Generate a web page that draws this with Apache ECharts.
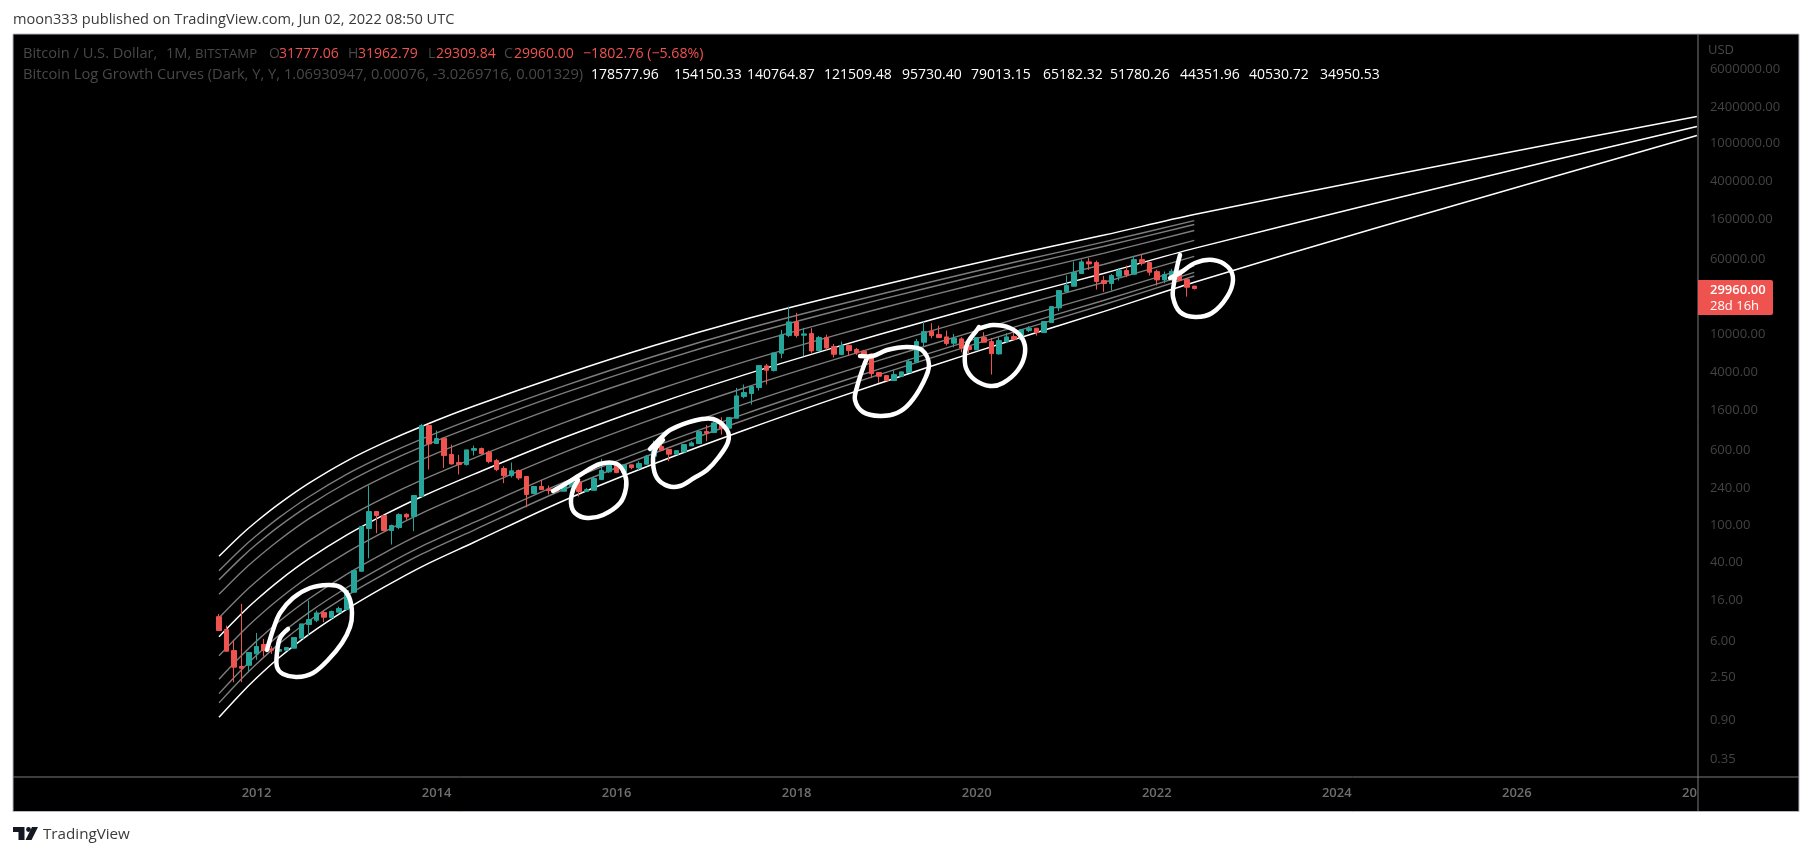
<!DOCTYPE html>
<html><head><meta charset="utf-8">
<script src="https://cdn.jsdelivr.net/npm/echarts@6/dist/echarts.min.js"></script>
<style>html,body{margin:0;padding:0;background:#fff}#c{width:1813px;height:856px}</style></head>
<body><div id="c"></div>
<script>
// First candle is 2011-08, one per month.
const candleOpen=[10.9,7.98,4.81,3.27,3.37,4.44,5.56,5.00,4.73,4.85,
5.09,6.48,9.01,10.0,12.03,10.66,12.13,12.93,19.65,32.6,
91.4,137.7,125,87.1,93.6,129,122,198,1098,711,
809,545,449,428,605,630,577,472,389,328,
371,321,213,252,238,236,225,252,282,223,
230,298,359,428,353,425,395,432,524,661,
615,550,581,672,711,950,927,1180,1029,1310,
2210,2376,2747,4633,4140,6290,9634,13400,9712,10110,
6708,9180,7387,6090,7568,6872,6602,6189,3945,3669,
3252,3610,3945,5062,8202,10695,9870,9327,8005,8890,
7387,6817,9180,8335,6189,8335,9404,8750,10870,11500,
10355,13180,18790,27860,31700,43030,57030,56100,36330,33800,
40340,46250,42330,60310,56100,45150,36930,41000,45510,37220,31777.06];
const candleHigh=[11.65,8.79,6.22,14.83,4.58,7.36,6.37,5.34,5.42,5.17,
6.58,9.15,16.07,12.63,12.83,12.63,13.9,20.45,33.15,95.9,
258,137.7,128,100.6,132,132,203,1143,1143,973,
809,694,541,610,677,645,600,491,411,449,
380,321,256,296,258,244,264,310,282,244,
321,491,464,449,425,425,464,541,764,694,
615,600,694,752,950,1115,1209,1342,1331,2725,
2953,2813,4670,4863,6341,11047,19400,16650,11600,11500,
9557,9870,7879,8335,7752,7152,6817,6290,3945,3669,
4206,4009,5485,8890,13510,12980,12260,10870,10030,9254,
8202,9180,10440,9105,9254,10190,10440,11135,12070,11500,
13510,19400,28540,41000,57470,60310,62800,58870,40660,42680,
49330,52170,65910,69140,57470,47380,45150,48150,45510,38440,31962.79];
const candleLow=[7.79,4.73,2.24,2.24,2.85,3.84,4.16,4.44,4.73,4.85,
5.09,6.48,6.91,9.53,9.53,10.24,12.13,12.93,19.65,32.6,
44.6,81.7,87.1,62.1,89.9,113,85.7,198,380,705,
395,428,337,418,532,545,442,365,273,313,
296,153,209,234,208,220,225,252,198,223,
230,298,350,347,353,382,376,432,524,605,
464,550,581,672,711,752,927,883,1029,1310,
2123,1822,2555,2953,4041,5574,9254,9180,5850,6341,
6548,6817,5665,5993,5898,6042,6090,3440,3074,3252,
3252,3610,3945,5062,7447,9035,9180,7568,7268,6444,
6189,6817,8202,3758,6090,8005,8750,8750,10440,9634,
10355,13180,17340,27860,31700,43030,47010,29240,27630,28540,
36330,39370,42330,52170,41000,32200,34070,36330,36330,24690,29309.84];
const candleClose=[7.79,4.73,3.22,3.14,4.58,5.30,4.81,4.85,4.93,5.17,
6.58,9.15,10.16,11.93,10.75,12.33,13.25,20.45,33.15,95.9,
137.7,125,87.1,98.2,128,121,203,1098,705,802,
532,435,428,610,630,558,460,380,328,368,
310,208,252,234,229,225,258,286,223,234,
305,371,428,353,425,398,439,524,661,605,
550,600,694,722,950,912,1170,1021,1331,2246,
2433,2813,4670,4174,6341,9790,13400,9634,10030,6655,
9180,7152,6139,7568,6708,6341,6090,3850,3610,3252,
3758,4009,5145,8335,10610,9634,9180,7943,9035,7152,
6872,9180,8202,6239,8537,9327,8750,11135,11500,10355,
13510,19400,28540,32200,44090,57030,54330,35460,33800,41000,
46250,41670,60310,55210,44440,36930,42000,45510,36330,30930,29960.00];

// Growth curves, sampled at these months.
const curveMonths=['2011-08','2011-11','2012-01','2012-04','2012-08','2013-01','2013-06','2013-11','2014-06','2015-06','2016-06','2017-06','2018-06','2019-06','2020-06','2021-06','2022-06'];
const whiteMonths=['2024-06','2026-06','2028-01'];
const curveTop=[46.8,79.2,108.4,165.8,273.3,466,726,1074,1757,3758,7568,14180,24700,41500,68080,109000,178577.96];
const curveTopFuture=[426000,992000,1902000];
const curveG1=[33.0,56.2,77.2,119,197,338,531,792,1307,2859,5853,11145,19780,33860,56600,92320,154150];
const curveG2=[26.5,45.3,62.5,96.4,160,276,437,655,1087,2412,4989,9596,17240,29850,50470,83270,140764.87];
const curveG3=[18.7,32.1,44.4,69.0,116,200,319,483,809,1834,3859,7546,13810,24360,41970,70550,121509];
const curveG4=[10.6,18.4,25.6,40.1,67.8,119,192,294,501,1177,2543,5112,9636,17520,31110,53910,95730.40];
const curveMid=[6.71,11.7,16.4,25.9,44.1,77.9,127,197,340,822,1816,3728,7203,13430,24430,43380,79013];
const curveMidFuture=[233000,666000,1500000];
const curveG6=[4.24,7.45,10.5,16.7,28.7,51.1,84.2,132,230,574,1296,2720,5387,10290,19180,34900,65182.32];
const curveG7=[2.41,4.26,6.04,9.71,16.8,30.3,50.6,80.7,143,369,854,1842,3760,7402,14220,26680,51780.26];
const curveG8=[1.70,3.02,4.30,6.95,12.1,21.9,37.0,59.5,106,280,661,1448,3012,6042,11830,22600,44351.96];
const curveG9=[1.36,2.44,3.48,5.65,9.87,18.0,30.4,49.2,88.2,236,563,1247,2624,5322,10540,20390,40530.72];
const curveBottom=[0.961,1.73,2.48,4.04,7.11,13.0,22.2,36.3,65.6,180,436,980,2102,4345,8770,17280,34950.53];
const curveBottomFuture=[127500,447200,1203000];

const priceTicks=[6000000,2400000,1000000,400000,160000,60000,10000,4000,1600,600,240,100,40,16,6,2.5,0.9,0.35];
const yearLabels=['2012','2014','2016','2018','2020','2022','2024','2026','2028'];
const legendCurveValues=['178577.96','154150.33','140764.87','121509.48','95730.40','79013.15','65182.32','51780.26','44351.96','40530.72','34950.53'];

const FONT='"Open Sans",sans-serif';
const months=[];
for(let y=2009,m=5;!(y===2028&&m===2);){months.push(y+'-'+String(m).padStart(2,'0'));m++;if(m>12){m=1;y++;}}
const firstIdx=months.indexOf('2011-08');
const candles=new Array(firstIdx).fill('-').concat(candleOpen.map((o,i)=>[o,candleClose[i],candleLow[i],candleHigh[i]]));
const pairs=(ms,vs)=>ms.map((m,i)=>[m,vs[i]]);
function curve(vals,future,color,width){
  const d=pairs(curveMonths,vals).concat(future?pairs(whiteMonths,future):[]);
  return {type:'line',data:d,smooth:0.33,symbol:'none',silent:true,z:1,lineStyle:{color,width},animation:false};
}
const GR='#7d7d7d',WH='#ffffff';
const series=[
 curve(curveG1,null,GR,1.4),curve(curveG2,null,GR,1.4),curve(curveG3,null,GR,1.4),curve(curveG4,null,GR,1.4),
 curve(curveG6,null,GR,1.4),curve(curveG7,null,GR,1.4),curve(curveG8,null,GR,1.4),curve(curveG9,null,GR,1.4),
 curve(curveTop,curveTopFuture,WH,1.5),curve(curveMid,curveMidFuture,WH,1.5),curve(curveBottom,curveBottomFuture,WH,1.5),
 {type:'candlestick',data:candles,barWidth:5,z:3,silent:true,
  itemStyle:{color:'#26a69a',color0:'#ef5350',borderColor:'#26a69a',borderColor0:'#ef5350',borderWidth:1}}
];

// Hand-drawn annotations on the picture (screen pixels, not data).
const strokes=[
 [[288,629],[280,638],[277,653],[277,667],[283,674],[297,677],[313,673],[328,660],[342,643],[350,627],[352,613],[349,597],[340,587],[328,585],[310,588],[293,598],[280,613],[273,630],[267,650]],
 [[553,491],[567,483],[580,475],[600,464],[617,464],[625,475],[626,488],[620,503],[603,515],[587,518],[575,513],[571,503],[573,490],[578,480]],
 [[650,449],[662,437],[670,430],[693,421],[713,419],[727,430],[728,442],[718,458],[707,470],[694,478],[680,486],[668,486],[657,478],[653,463],[655,450],[663,440]],
 [[860,356],[873,356],[887,350],[907,347],[922,350],[929,365],[923,383],[910,403],[897,413],[880,416],[863,412],[855,400],[857,387],[863,368],[867,358]],
 [[978,329],[993,325],[1010,328],[1022,338],[1025,353],[1018,370],[1003,383],[990,386],[975,380],[966,368],[965,353],[968,342],[977,330],[979,327]],
 [[1180,255],[1177,267],[1174,283],[1173,297],[1180,312],[1195,317],[1212,313],[1227,297],[1233,280],[1228,267],[1213,260],[1195,263],[1180,273],[1170,278]]
];

const DIM='#484848',RED='#ef5350';
const txt=(x,y,t,fill,size,weight,z)=>({type:'text',z:z||200,silent:true,style:{x,y,text:t,fill,font:(weight||'400')+' '+(size||14)+'px '+FONT,textVerticalAlign:'middle'}});
const graphics=[
 {type:'rect',z:-5,silent:true,shape:{x:13,y:34,width:1786,height:777.5},style:{fill:'#000',stroke:'#b4b6c0',lineWidth:1}},
 {type:'line',z:150,silent:true,shape:{x1:1698,y1:34,x2:1698,y2:811},style:{stroke:'#7a7a7a',lineWidth:1}},
 {type:'line',z:150,silent:true,shape:{x1:13,y1:777,x2:1799,y2:777},style:{stroke:'#7a7a7a',lineWidth:1}},
 txt(13,20,'moon333 published on TradingView.com, Jun 02, 2022 08:50 UTC','#3a3a3a',14.6),
 txt(23,54,'Bitcoin / U.S. Dollar,',DIM,14.6),txt(166,54,'1M,',DIM,14.6),txt(195,54,'BITSTAMP',DIM,13.2),
 txt(269,54,'O',DIM,14),txt(279,54,'31777.06',RED,14),
 txt(348,54,'H',DIM,14),txt(358,54,'31962.79',RED,14),
 txt(428,54,'L',DIM,14),txt(436,54,'29309.84',RED,14),
 txt(504,54,'C',DIM,14),txt(514,54,'29960.00',RED,14),
 txt(583,54,'\u22121802.76 (\u22125.68%)',RED,14.2),
 txt(23,75,'Bitcoin Log Growth Curves (Dark, Y, Y, 1.06930947, 0.00076, -3.0269716, 0.001329)',DIM,14.7),
 txt(1708,50,'USD',DIM,13),
 {type:'rect',z:210,silent:true,shape:{x:1698,y:280,width:75,height:35,r:[0,2,2,0]},style:{fill:RED}},
 txt(1710,290,'29960.00','#fff',13,'600',220),
 txt(1710,306,'28d 16h','#fff',13,'400',220),
 // TradingView logo
 {type:'polygon',silent:true,shape:{points:[[13,827],[24.5,827],[24.5,840],[18.5,840],[18.5,832],[13,832]]},style:{fill:'#131722'}},
 {type:'circle',silent:true,shape:{cx:28.5,cy:829.5,r:2.4},style:{fill:'#131722'}},
 {type:'polygon',silent:true,shape:{points:[[32,827],[38,827],[31.5,840],[25.5,840]]},style:{fill:'#131722'}},
 txt(43,835,'TradingView','#3a3a3a',15.2)
];
const legendX=[591,674,747,824,902,971,1043,1110,1180,1249,1320];
legendCurveValues.forEach((v,i)=>graphics.push(txt(legendX[i],75,v,'#ffffff',14,'400')));
strokes.forEach(p=>graphics.push({type:'polyline',z:120,silent:true,shape:{points:p,smooth:0.35},style:{stroke:'#fff',fill:null,lineWidth:4.5,lineCap:'round',lineJoin:'round'}}));

const chart=echarts.init(document.getElementById('c'),null,{renderer:'canvas'});
chart.setOption({
 animation:false,backgroundColor:'#fff',
 grid:{left:16.45,top:34,width:1680.45,height:743,containLabel:false},
 xAxis:{type:'category',data:months,boundaryGap:false,
  axisLine:{show:false},axisTick:{show:false},splitLine:{show:false},
  axisLabel:{margin:10,fontFamily:FONT,fontSize:13,fontWeight:600,color:'#6e6e6e',hideOverlap:false,alignMaxLabel:'right',
   interval:(i,v)=>v.endsWith('-01')&&yearLabels.includes(v.slice(0,4)),
   formatter:v=>v.slice(0,4)==='2028'?'20':v.slice(0,4)}},
 yAxis:{type:'log',logBase:10,position:'right',min:0.2273,max:13960000,
  axisLine:{show:false},axisTick:{show:false},splitLine:{show:false},minorTick:{show:false},
  axisLabel:{margin:13,fontFamily:FONT,fontSize:13,color:'#434343',customValues:priceTicks,formatter:v=>Number(v).toFixed(2)}},
 series,
 graphic:graphics
});
</script></body></html>
